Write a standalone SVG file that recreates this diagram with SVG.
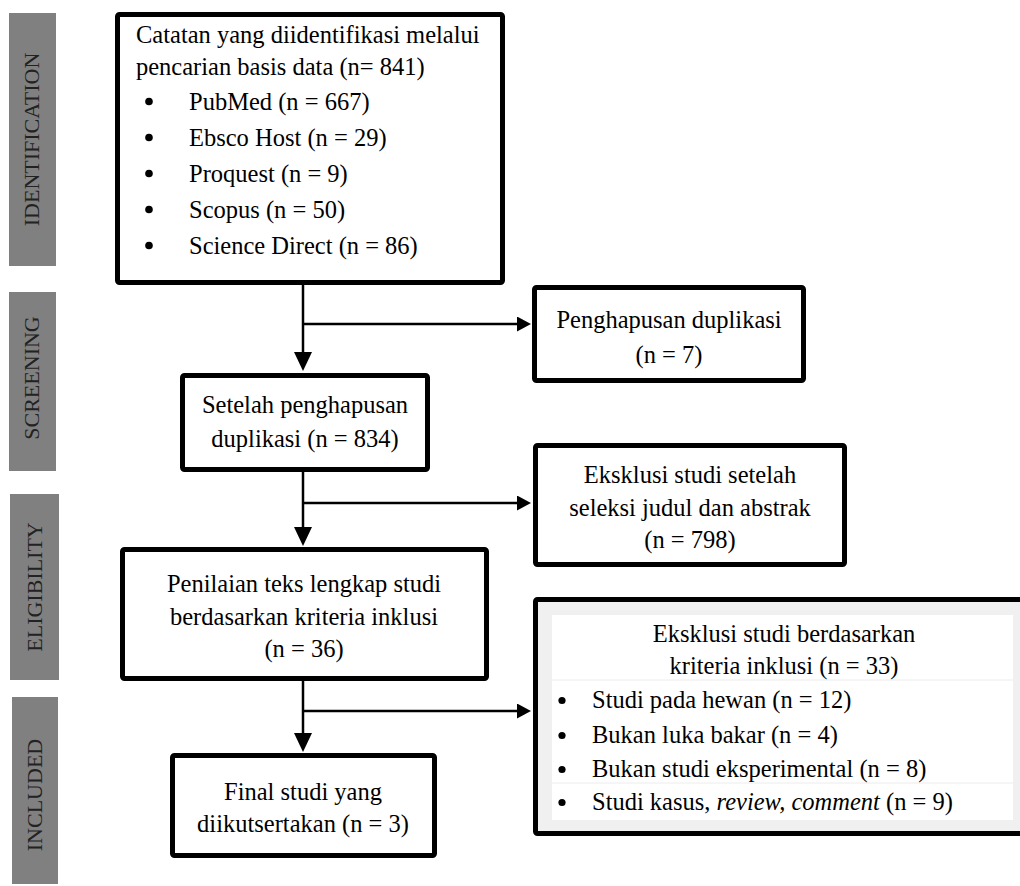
<svg xmlns="http://www.w3.org/2000/svg" width="1020" height="886" viewBox="0 0 1020 886">
<style>
.box{fill:#fff;stroke:#000;stroke-width:5}
.lab{fill:#808080}
.labt{font-family:"Liberation Serif","Times New Roman",serif;font-size:22px;fill:#222;text-anchor:middle}
.t{font-family:"Liberation Serif","Times New Roman",serif;font-size:24.5px;fill:#000}
.c{text-anchor:middle}
.conn{stroke:#000;stroke-width:2.5;fill:none}
.b{fill:#000}
</style>
<defs>
<marker id="ad" markerUnits="userSpaceOnUse" markerWidth="19" markerHeight="18" viewBox="0 0 19 18" refX="0" refY="9" orient="auto">
<path d="M0,0 L19,9 L0,18 z" fill="#000"/>
</marker>
<marker id="ar" markerUnits="userSpaceOnUse" markerWidth="14" markerHeight="15" viewBox="0 0 14 15" refX="0" refY="7.5" orient="auto">
<path d="M0,0 L14,7.5 L0,15 z" fill="#000"/>
</marker>
</defs>

<g id="labels">
<rect class="lab" x="9" y="13" width="47" height="253"/>
<text class="labt" transform="translate(39,139.5) rotate(-90)">IDENTIFICATION</text>
<rect class="lab" x="9" y="292" width="47" height="179"/>
<text class="labt" transform="translate(39,378) rotate(-90)">SCREENING</text>
<rect class="lab" x="10" y="494" width="49" height="186"/>
<text class="labt" transform="translate(42,587) rotate(-90)">ELIGIBILITY</text>
<rect class="lab" x="12" y="697" width="46" height="187"/>
<text class="labt" transform="translate(42,795) rotate(-90)">INCLUDED</text>
</g>

<g id="connectors">
<line class="conn" x1="303" y1="285" x2="303" y2="352" marker-end="url(#ad)"/>
<line class="conn" x1="303" y1="324" x2="517" y2="324" marker-end="url(#ar)"/>
<line class="conn" x1="303" y1="472" x2="303" y2="527" marker-end="url(#ad)"/>
<line class="conn" x1="303" y1="503" x2="517" y2="503" marker-end="url(#ar)"/>
<line class="conn" x1="303" y1="681" x2="303" y2="733" marker-end="url(#ad)"/>
<line class="conn" x1="303" y1="711" x2="517" y2="711" marker-end="url(#ar)"/>
</g>

<g id="n-identified">
<rect class="box" x="117.5" y="14.5" width="385" height="268" rx="2"/>
<text class="t" x="136" y="43">Catatan yang diidentifikasi melalui</text>
<text class="t" x="136" y="75">pencarian basis data (n= 841)</text>
<circle class="b" cx="149" cy="101.5" r="3.8"/><text class="t" x="189" y="110">PubMed (n = 667)</text>
<circle class="b" cx="149" cy="137.5" r="3.8"/><text class="t" x="189" y="146">Ebsco Host (n = 29)</text>
<circle class="b" cx="149" cy="173.5" r="3.8"/><text class="t" x="189" y="182">Proquest (n = 9)</text>
<circle class="b" cx="149" cy="209.5" r="3.8"/><text class="t" x="189" y="218">Scopus (n = 50)</text>
<circle class="b" cx="149" cy="245.5" r="3.8"/><text class="t" x="189" y="254">Science Direct (n = 86)</text>
</g>

<g id="n-duplicates">
<rect class="box" x="534.5" y="287.5" width="269" height="93" rx="2"/>
<text class="t c" x="669" y="328">Penghapusan duplikasi</text>
<text class="t c" x="669" y="363">(n = 7)</text>
</g>

<g id="n-after-dup">
<rect class="box" x="182.5" y="375.5" width="245" height="94" rx="2"/>
<text class="t c" x="305" y="413">Setelah penghapusan</text>
<text class="t c" x="305" y="447">duplikasi (n = 834)</text>
</g>

<g id="n-excl-title">
<rect class="box" x="535.5" y="445.5" width="309" height="119" rx="2"/>
<text class="t c" x="690" y="483">Eksklusi studi setelah</text>
<text class="t c" x="690" y="516">seleksi judul dan abstrak</text>
<text class="t c" x="690" y="548">(n = 798)</text>
</g>

<g id="n-fulltext">
<rect class="box" x="122.5" y="549.5" width="364" height="129" rx="2"/>
<text class="t c" x="304" y="592">Penilaian teks lengkap studi</text>
<text class="t c" x="304" y="625">berdasarkan kriteria inklusi</text>
<text class="t c" x="304" y="657">(n = 36)</text>
</g>

<g id="n-excl-criteria">
<rect class="box" x="535.5" y="599.5" width="500" height="234" rx="2" style="fill:#f0f0f0"/>
<rect x="552" y="615" width="461" height="205" fill="#fff"/>
<line x1="552" y1="680" x2="1013" y2="680" stroke="#ececec" stroke-width="1"/>
<line x1="552" y1="783" x2="1013" y2="783" stroke="#ececec" stroke-width="1"/>
<text class="t c" x="784" y="642">Eksklusi studi berdasarkan</text>
<text class="t c" x="784" y="674">kriteria inklusi (n = 33)</text>
<circle class="b" cx="562" cy="700.5" r="3.6"/><text class="t" x="592" y="708">Studi pada hewan (n = 12)</text>
<circle class="b" cx="562" cy="735.5" r="3.6"/><text class="t" x="592" y="743">Bukan luka bakar (n = 4)</text>
<circle class="b" cx="562" cy="769.5" r="3.6"/><text class="t" x="592" y="777">Bukan studi eksperimental (n = 8)</text>
<circle class="b" cx="562" cy="802.5" r="3.6"/><text class="t" x="592" y="810">Studi kasus, <tspan font-style="italic">review, comment</tspan> (n = 9)</text>
</g>

<g id="n-included">
<rect class="box" x="172.5" y="755.5" width="262" height="100" rx="2"/>
<text class="t c" x="303" y="800">Final studi yang</text>
<text class="t c" x="303" y="832">diikutsertakan (n = 3)</text>
</g>
</svg>
